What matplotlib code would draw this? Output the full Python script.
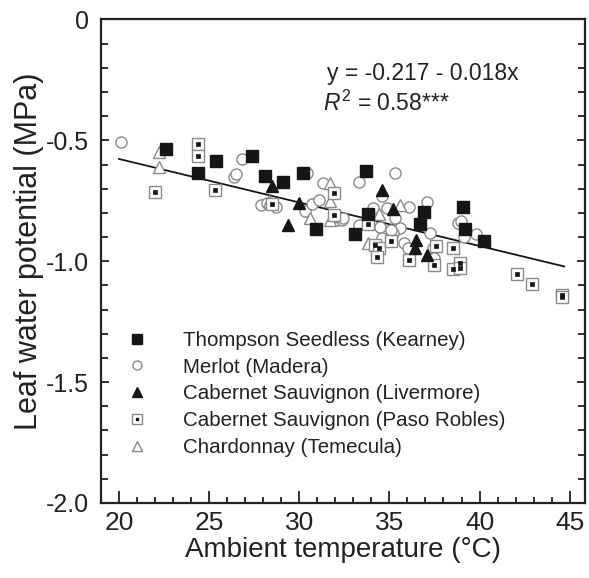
import matplotlib
matplotlib.use("Agg")
import matplotlib.pyplot as plt
from matplotlib.lines import Line2D
from matplotlib.legend_handler import HandlerTuple
from matplotlib.ticker import MultipleLocator

plt.rcParams['font.family'] = ['Liberation Sans', 'DejaVu Sans']
plt.rcParams['axes.unicode_minus'] = False
plt.rcParams['mathtext.fontset'] = 'custom'
plt.rcParams['mathtext.rm'] = 'Liberation Sans'
plt.rcParams['mathtext.it'] = 'Liberation Sans:italic'

# ---- data ----
thompson_x = [22.6, 24.4, 25.4, 27.4, 28.1, 29.1, 30.2, 30.9, 33.7, 33.8, 33.1, 36.9, 36.7, 39.1, 39.2, 40.25]
thompson_y = [-0.537, -0.634, -0.585, -0.565, -0.647, -0.673, -0.634, -0.865, -0.625, -0.806, -0.886,
              -0.795, -0.847, -0.774, -0.867, -0.915]

merlot_x = [20.1, 26.8, 26.4, 26.5, 27.9, 28.2, 28.7, 30.4, 30.3, 30.7, 31.1, 31.3, 32.1, 32.35, 31.9,
            32.45, 33.3, 35.3, 34.6, 33.3, 34.5, 35.3, 36.1, 37.1, 35.6, 34.6, 35.2, 35.8, 36.05, 34.1,
            34.85, 38.8, 38.97, 39.8, 39.15, 37.25, 37.4, 37.5, 35.1]
merlot_y = [-0.505, -0.577, -0.650, -0.640, -0.767, -0.760, -0.777, -0.634, -0.792, -0.765, -0.747,
            -0.675, -0.829, -0.829, -0.816, -0.822, -0.673, -0.634, -0.730, -0.850, -0.857, -0.820,
            -0.777, -0.754, -0.864, -0.905, -0.884, -0.926, -0.946, -0.781, -0.781, -0.843, -0.832,
            -0.887, -0.898, -0.884, -0.944, -0.988, -0.870]

livermore_x = [28.5, 30.0, 29.35, 34.6, 35.2, 36.5, 36.4, 37.1]
livermore_y = [-0.689, -0.758, -0.850, -0.705, -0.785, -0.912, -0.946, -0.974]

paso_x = [22.0, 24.4, 24.4, 25.3, 28.5, 31.9, 31.9, 33.8, 34.2, 34.4, 35.1, 34.3, 36.1, 37.6, 38.5,
          37.5, 38.5, 38.9, 38.9, 42.1, 42.9, 44.6, 44.6]
paso_y = [-0.715, -0.515, -0.565, -0.705, -0.765, -0.716, -0.809, -0.847, -0.933, -0.944, -0.916,
          -0.981, -0.995, -0.937, -0.944, -1.016, -1.033, -1.008, -1.027, -1.054, -1.095, -1.140, -1.147]

chard_x = [22.2, 22.2, 28.3, 31.7, 31.7, 30.6, 31.7, 34.4, 35.6, 33.8]
chard_y = [-0.549, -0.609, -0.751, -0.675, -0.751, -0.822, -0.829, -0.805, -0.767, -0.923]

series_labels = ["Thompson Seedless (Kearney)", "Merlot (Madera)", "Cabernet Sauvignon (Livermore)",
                 "Cabernet Sauvignon (Paso Robles)", "Chardonnay (Temecula)"]

fit_intercept = -0.217
fit_slope = -0.018
fit_range = [20.0, 44.7]

xticks = [20, 25, 30, 35, 40, 45]
yticks = [0, -0.5, -1.0, -1.5, -2.0]
ytick_labels = ["0", "-0.5", "-1.0", "-1.5", "-2.0"]

# ---- figure ----
fig = plt.figure(figsize=(5.89, 5.78), dpi=100)
ax = fig.add_axes([0.1715, 0.1298, 0.8217, 0.8365])

black = '#161616'
gray = '#8a8a8a'
txt = '#222222'

ax.plot(fit_range, [fit_intercept + fit_slope * v for v in fit_range], color=black, lw=1.3, zorder=1)

ax.plot(merlot_x, merlot_y, 'o', ms=8, mfc='white', mec=gray, mew=1.0, ls='none', zorder=2)
ax.plot(chard_x, chard_y, '^', ms=9, mfc='white', mec=gray, mew=1.0, ls='none', zorder=2)
ax.plot(paso_x, paso_y, 's', ms=8.5, mfc='white', mec=gray, mew=1.0, ls='none', zorder=3)
ax.plot(paso_x, paso_y, 's', ms=2.5, mfc=black, mec=black, mew=0.5, ls='none', zorder=3)
ax.plot(livermore_x, livermore_y, '^', ms=9, mfc=black, mec=black, ls='none', zorder=4)
ax.plot(thompson_x, thompson_y, 's', ms=8.5, mfc=black, mec=black, ls='none', zorder=4)

ax.set_xlim(19, 45.85)
ax.set_ylim(-2.0, 0.0)
ax.set_xticks(xticks)
ax.xaxis.set_minor_locator(MultipleLocator(1))
ax.set_yticks(yticks)
ax.set_yticklabels(ytick_labels)
ax.yaxis.set_minor_locator(MultipleLocator(0.1))

ax.tick_params(which='both', direction='in', right=True, top=False, width=1.3, color=txt,
               labelcolor=txt)
ax.tick_params(axis='x', which='major', length=8.5, labelsize=19, pad=6)
ax.tick_params(axis='x', which='minor', length=4.3)
ax.tick_params(axis='y', which='major', length=5.5, labelsize=18, pad=9)
ax.tick_params(axis='y', which='minor', length=5)
for s in ax.spines.values():
    s.set_linewidth(1.6)
    s.set_color(txt)

ax.set_xlabel("Ambient temperature (°C)", fontsize=20, color=txt, labelpad=1)
ax.set_ylabel("Leaf water potential (MPa)", fontsize=22, color=txt)
ax.yaxis.set_label_coords(-0.118, 0.52)

ax.text(0.467, 0.888, "y = -0.217 - 0.018x", transform=ax.transAxes, fontsize=16.5, color=txt,
        ha='left', va='center')
ax.text(0.458, 0.826, r"$\mathit{R}^{2}$ = 0.58***", transform=ax.transAxes, fontsize=16.5, color=txt,
        ha='left', va='center')

h1 = Line2D([], [], marker='s', ms=6.5, mfc=black, mec=black, ls='none')
h2 = Line2D([], [], marker='o', ms=6.5, mfc='white', mec=gray, mew=1.0, ls='none')
h3 = Line2D([], [], marker='^', ms=7, mfc=black, mec=black, ls='none')
h4a = Line2D([], [], marker='s', ms=6.5, mfc='white', mec=gray, mew=1.0, ls='none')
h4b = Line2D([], [], marker='s', ms=2, mfc=black, mec=black, ls='none')
h5 = Line2D([], [], marker='^', ms=7, mfc='white', mec=gray, mew=1.0, ls='none')
leg = ax.legend([h1, h2, h3, (h4a, h4b), h5], series_labels, loc='upper left',
                bbox_to_anchor=(0.053, 0.356), frameon=False, fontsize=14.8,
                handler_map={tuple: HandlerTuple(ndivide=1)}, handlelength=1.0,
                handletextpad=1.72, labelspacing=0.38, borderaxespad=0, borderpad=0)
for t in leg.get_texts():
    t.set_color(txt)

fig.savefig("out.png", dpi=100)
